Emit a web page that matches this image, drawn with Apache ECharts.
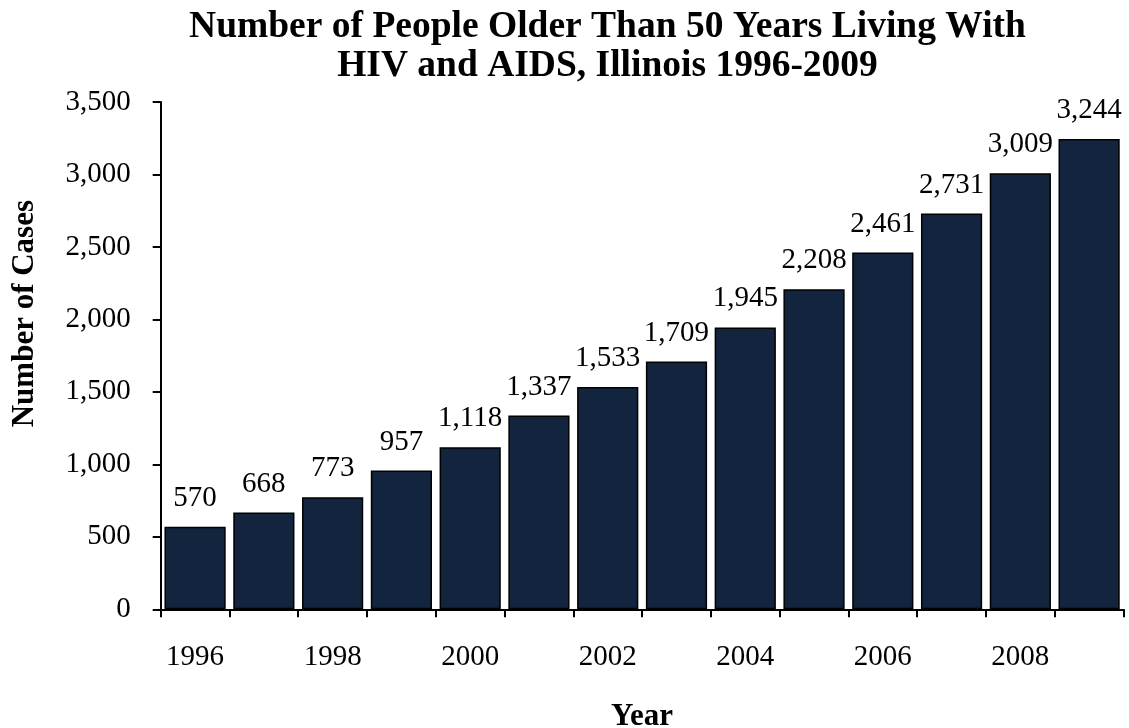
<!DOCTYPE html>
<html><head><meta charset="utf-8">
<script src="https://cdn.jsdelivr.net/npm/echarts@6/dist/echarts.min.js"></script>
<style>html,body{margin:0;padding:0;background:#fff}#c{width:1129px;height:728px}</style>
</head><body><div id="c"></div>
<script>
const categories = ['1996','1997','1998','1999','2000','2001','2002','2003','2004','2005','2006','2007','2008','2009'];
const cases = [570,668,773,957,1118,1337,1533,1709,1945,2208,2461,2731,3009,3244];
const titleLines = ['Number of People Older Than 50 Years Living With','HIV and AIDS, Illinois 1996-2009'];
const serif = '"Liberation Serif", "DejaVu Serif", serif';
const chart = echarts.init(document.getElementById('c'), null, {renderer:'canvas'});
chart.setOption({
  animation:false,
  backgroundColor:'#fff',
  title:{text:titleLines.join('\n'),left:602.5,textAlign:'center',top:3,
    textStyle:{fontFamily:serif,fontWeight:'bold',fontSize:37.5,lineHeight:39,color:'#000'}},
  grid:{left:160.7,right:5.5,top:102,bottom:118.7,containLabel:false,outerBoundsMode:'none'},
  xAxis:{type:'category',data:categories,
    name:'Year',nameLocation:'middle',nameGap:92,
    nameTextStyle:{fontFamily:serif,fontWeight:'bold',fontSize:31,color:'#000'},
    axisLine:{lineStyle:{color:'#000',width:2}},
    axisTick:{show:true,alignWithLabel:false,interval:0,length:8,inside:false,lineStyle:{color:'#000',width:2}},
    axisLabel:{interval:1,margin:34,fontFamily:serif,fontSize:29,color:'#000'}},
  yAxis:{type:'value',min:0,max:3500,interval:500,
    name:'Number of Cases',nameLocation:'middle',nameGap:120,nameRotate:90,
    nameTextStyle:{fontFamily:serif,fontWeight:'bold',fontSize:31,color:'#000',padding:[0,0,0,84]},
    splitLine:{show:false},
    axisLine:{show:true,lineStyle:{color:'#000',width:2}},
    axisTick:{show:true,length:8,lineStyle:{color:'#000',width:2}},
    axisLabel:{margin:30,fontFamily:serif,fontSize:29,color:'#000',
      formatter:v=>v.toLocaleString('en-US')}},
  series:[{type:'bar',data:cases,barCategoryGap:'11%',
    itemStyle:{color:'#13243f',borderColor:'#000',borderWidth:1.5},
    label:{show:true,position:'top',distance:14,fontFamily:serif,fontSize:29,color:'#000',
      formatter:p=>p.value.toLocaleString('en-US')}}]
});
</script></body></html>
